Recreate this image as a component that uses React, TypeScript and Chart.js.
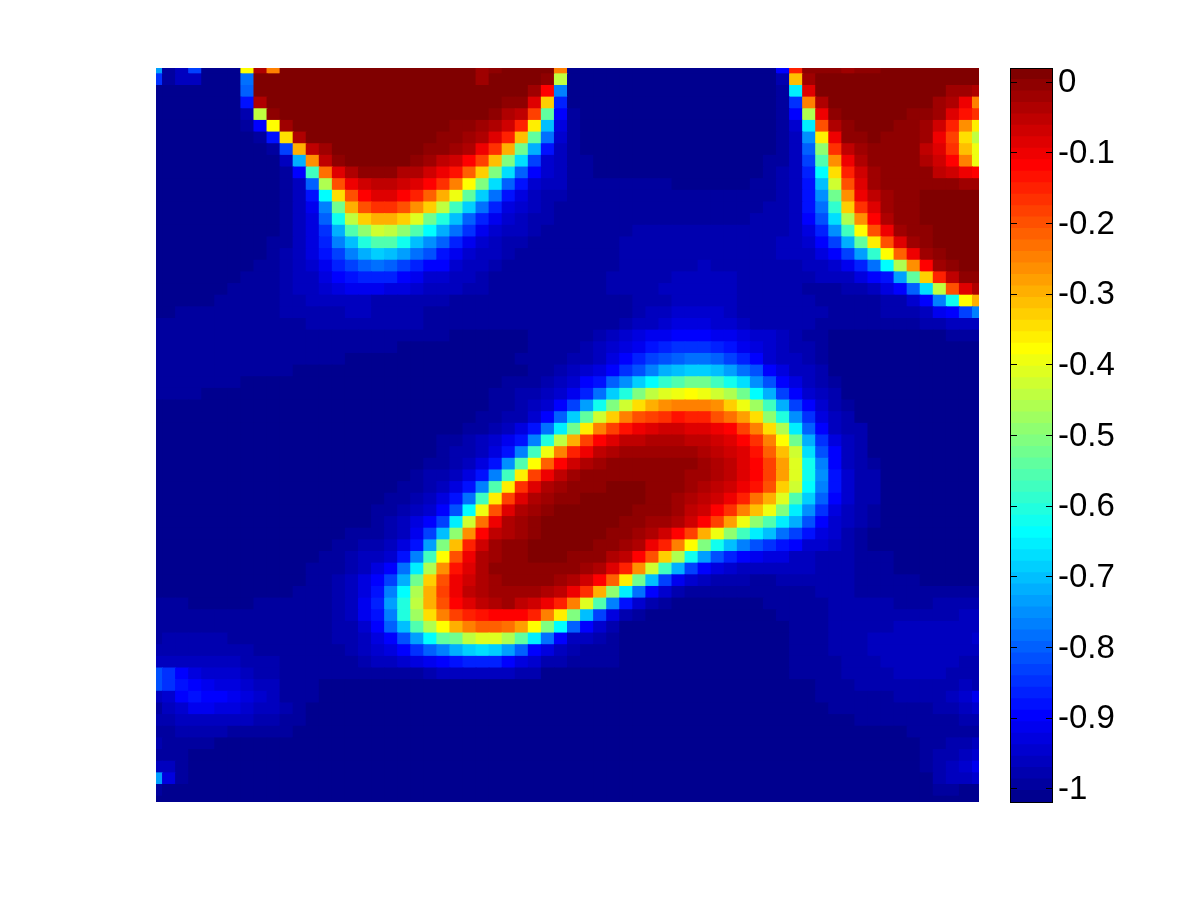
import React, { useEffect, useRef } from "react";
import { Chart, registerables } from "chart.js";

Chart.register(...registerables);

// Colour-level reading of each cell (top row first): one character per column, 64 columns.
const LEVEL_CHARS = "0123456789abcdefghijklmnopqrstuvwxyzABCDEFGHIJKLMNOPQRSTUVWXYZ+*";
const heatRows = [
  "h13b000DYL****** *********Z+****L 0000000000000000 7R+++Z++********",
  "a133000e******** *********Z****+z 0000000000000000 2HZ*************",
  "0000000d******** *************ZTf 0000000000000000 1mV**********ZZY",
  "00000008Y******* ***********++VG9 0000000000000000 1aLY********ZYUL",
  "00000002z+****** **********+YXPt7 1000000000000000 17yU+*****++ZVSQ",
  "000000017DZ***** *******++ZYWREj5 1000000000000000 14mOY+***++ZWRKE",
  "0000000018FY**** ******++ZYVRHte4 1000000000000000 13gEU++*+++ZUPFz",
  "0000000001bIXZ** *****++ZYUQIui83 1000000000000000 13dwQXZ++++XVQHC",
  "00000000003iKX+* ****+ZXWTPHvlb43 1100000000000001 13bsKUY++++YWTLC",
  "000000000017rMVY +++YYWUSNGvld743 1100000000000001 239nFRWZ++++XWUT",
  "000000000013dyOU WXXWVTQLDvld8433 1111111100000011 238jAOVZ++++++ZZ",
  "0000000000138nFO TVVTRNICtke85322 1111111111111111 238guKUXZ++*****",
  "0000000000136fuI OQQOKGzrke954321 1111111111111112 238eqGQVZ++*****",
  "0000000000135doz GIIGBupjd9643221 1111111111111122 237clyKTY++*****",
  "0000000000135ais wAzwsniea6433211 1111122222222222 2359grDOUZ++****",
  "00000000011359fj pssojgd964322111 1111222222222222 3347bitEOVZ+****",
  "00000000012358bf ikjhec8643321111 1111222222222222 33357bhqDNUZ+***",
  "000000001123469b dedb977433211111 1111222222322222 2233469enyKTZ+**",
  "0000000111233578 9997644332111111 1112222233333222 222333578htGRX++",
  "0000001111233456 6655433322111111 1112222333333222 2211122357dlzOVY",
  "0000011111223333 3222222111111111 1111122233333222 222111112247foDI",
  "0011111111222223 3222211111111111 1111123344443222 22221111222367bf",
  "1111111111112222 2222211111111111 1111233455544322 2221111111122333",
  "1111111111111111 1111111000000111 1123456677766544 3211000000000111",
  "1111111111111111 1110000000000111 12345689aaa98654 3221000000000000",
  "1111111111111110 0000000000001111 223579bcdeedb974 3321000000000000",
  "1111111111100000 0000000000000112 3457acfijkkjhec7 5332000000000000",
  "1111111000000000 0000000000011123 478dgknqsuurolgc 7532100000000000",
  "1111000000000000 0000000000112234 69ekpvzBCDCAyuni b743200000000000",
  "0000000000000000 0000000000112347 bhovAFIKLLLKGCxr ib74210000000000",
  "0000000000000000 000000000112247d ktAGLOPQSRROMJFw pga5320000000000",
  "0000000000000000 00000000112358em uELPSUVWWVVUTPLF ymd7322000000000",
  "0000000000000000 0000001123468fpz IPTVXXYYYXXWVTQL Duia532000000000",
  "0000000000000000 000000122358frCL RUXYZZZZZZYXWVSN HAlc732000000000",
  "0000000000000000 00000112358gsDNT WYZ+++++++ZYXVTP JBof732100000000",
  "0000000000000000 0000122358frEPUX Z++++++++ZZYXVTP JBog842200000000",
  "0000000000000000 000112358fsEQVYZ +++***+++ZYXWUSO GAnf842200000000",
  "0000000000000000 00112358erEPVYZ+ +*****++ZYXWURMI Bskd742200000000",
  "0000000000000000 0112347cnCOVYZ+* *****+++ZXWTQLHC vmga532100000000",
  "0000000000000000 012357bmAMUYZ+** ****++ZZYWTPJCws mic7432100000000",
  "0000000000000001 11236bjwKTXYZ+** ***++ZYWTPICwrmj eb85421000000000",
  "0000000000000011 22358hvHRWZ++*** **++ZYURLDvojfca 8744321000000000",
  "0000000000000112 3348frDOUYZ++*** +++YXTOGyohc9765 5332221110000000",
  "0000000000001112 357emyKSVY++++++ +ZYVRKArib754333 3332221110000000",
  "0000000000001123 57biuGOUWYZ++++Z YWTNEujb64322211 2222221111100000",
  "0000000000011123 58fnyIPUXYZZZZYX UQIwme7421111111 1112221111111111",
  "1110000011111123 69hpzIOTVXYZXWUR LBsf842100000001 1111222221112222",
  "1111111111111123 68fpxFLPRSTTTRLE vjb5210000000000 1111222222222233",
  "1111111111111122 47djsyDILNNMJDvn d742000000000000 0111222223333333",
  "1222221111111122 357chntuzBBytme7 3321000000000000 0111222333333334",
  "2222222211111112 3457adfiklkhd753 2111000000000000 0111222333333333",
  "3333333222111111 2334567899975422 1111000000000000 0111122233333322",
  "ca75444322111111 1111123333332200 0000000000000000 0111122223333222",
  "ca87655433111000 0000000000000000 0000000000000000 0001112222222232",
  "3478776543111000 0000000000000000 0000000000000000 0001111112222346",
  "1346655433210000 0000000000000000 0000000000000000 0000111111112234",
  "2233333322110000 0000000000000000 0000000000000000 0000001111111122",
  "1122221111100000 0000000000000000 0000000000000000 0000000000111111",
  "2111100000000000 0000000000000000 0000000000000000 0000000000011223",
  "1110000000000000 0000000000000000 0000000000000000 0000000000012234",
  "3310000000000000 0000000000000000 0000000000000000 0000000000012346",
  "h510000000000000 0000000000000000 0000000000000000 0000000000002334",
  "1000000000000000 0000000000000000 0000000000000000 0000000000001100",
  "0000000000000000 0000000000000000 0000000000000000 0000000000000000",
];
const colorbarTicks = [0, -0.1, -0.2, -0.3, -0.4, -0.5, -0.6, -0.7, -0.8, -0.9, -1];
const colorMin = -1.0188;
const colorMax = 0.0202;
const LEVELS = 64;

const jet = (i: number): string => {
  const t = (i + 1) / LEVELS;
  const ch = (v: number) => Math.round(255 * Math.max(0, Math.min(1, v)));
  const r = 1.5 - Math.abs(4 * t - 3);
  const g = 1.5 - Math.abs(4 * t - 2);
  const b = 1.5 - Math.abs(4 * t - 1);
  return `rgb(${ch(r)},${ch(g)},${ch(b)})`;
};

const levelGrid = heatRows.map((row) =>
  row.replace(/ /g, "").split("").map((c) => LEVEL_CHARS.indexOf(c))
);

const boxPlugin = {
  id: "colorbarBox",
  afterDraw(chart: any) {
    const { ctx, chartArea: a } = chart;
    ctx.save();
    ctx.strokeStyle = "#000";
    ctx.lineWidth = 1;
    ctx.strokeRect(a.left + 0.5, a.top + 0.5, a.right - a.left - 1, a.bottom - a.top);
    ctx.restore();
  },
};

export default function App() {
  const heatRef = useRef<HTMLCanvasElement>(null);
  const barRef = useRef<HTMLCanvasElement>(null);

  useEffect(() => {
    const columns = levelGrid[0].map((_, i) => String(i + 1));
    const heat = new Chart(heatRef.current!, {
      type: "bar",
      data: {
        labels: columns,
        // stacked from the bottom row upward, one unit per row
        datasets: [...levelGrid].reverse().map((levels) => ({
          data: levels.map(() => 1),
          backgroundColor: levels.map(jet),
          borderWidth: 0,
          barPercentage: 1,
          categoryPercentage: 1,
          inflateAmount: 0.5,
          clip: 0,
        })),
      } as any,
      options: {
        responsive: false,
        animation: false,
        events: [],
        devicePixelRatio: 1,
        layout: { padding: { left: 156, right: 221, top: 68, bottom: 98 } },
        plugins: { legend: { display: false }, tooltip: { enabled: false } },
        scales: {
          x: { display: false, stacked: true, offset: false, grid: { offset: false } },
          y: { display: false, stacked: true, min: 0.5, max: levelGrid.length - 0.5 },
        },
      } as any,
    });

    const step = (colorMax - colorMin) / LEVELS;
    const bandLevels = Array.from({ length: LEVELS }, (_, i) => i);
    const axisCommon = {
      min: colorMin,
      max: colorMax,
      border: { display: false },
      afterBuildTicks: (s: any) => {
        s.ticks = colorbarTicks.map((value) => ({ value }));
      },
    };
    const bar = new Chart(barRef.current!, {
      type: "bar",
      data: {
        labels: ["c"],
        datasets: bandLevels.map((i) => ({
          data: [[colorMin + i * step, colorMin + (i + 1) * step]],
          backgroundColor: jet(i),
          borderWidth: 0,
          barPercentage: 1,
          categoryPercentage: 1,
          inflateAmount: 0.5,
          grouped: false,
          clip: 0,
        })),
      } as any,
      options: {
        responsive: false,
        animation: false,
        events: [],
        devicePixelRatio: 1,
        layout: { padding: { left: 1010, top: 68, bottom: 98, right: 0 } },
        plugins: { legend: { display: false }, tooltip: { enabled: false } },
        scales: {
          x: { display: false },
          y: {
            ...axisCommon,
            position: "right",
            afterFit: (s: any) => {
              s.width = 147;
            },
            grid: {
              drawOnChartArea: false,
              drawTicks: true,
              tickLength: -7,
              color: "#000",
              lineWidth: 1,
              z: 1,
            },
            ticks: {
              color: "#000",
              padding: 12,
              autoSkip: false,
              maxRotation: 0,
              labelOffset: 1,
              font: { family: "'Liberation Sans', Arial, sans-serif", size: 33 },
              callback: (v: any) => String(Math.round(Number(v) * 10) / 10),
            },
          },
          yLeft: {
            ...axisCommon,
            position: "left",
            afterFit: (s: any) => {
              s.width = 0;
            },
            grid: {
              drawOnChartArea: false,
              drawTicks: true,
              tickLength: -7,
              color: "#000",
              lineWidth: 1,
              z: 1,
            },
            ticks: { display: false },
          },
        },
      } as any,
      plugins: [boxPlugin],
    });

    return () => {
      heat.destroy();
      bar.destroy();
    };
  }, []);

  const style: React.CSSProperties = { position: "absolute", left: 0, top: 0, display: "block" };
  return (
    <div style={{ position: "absolute", left: 0, top: 0, width: 1200, height: 900, background: "#fff" }}>
      <canvas ref={heatRef} width={1200} height={900} style={style} />
      <canvas ref={barRef} width={1200} height={900} style={style} />
    </div>
  );
}
